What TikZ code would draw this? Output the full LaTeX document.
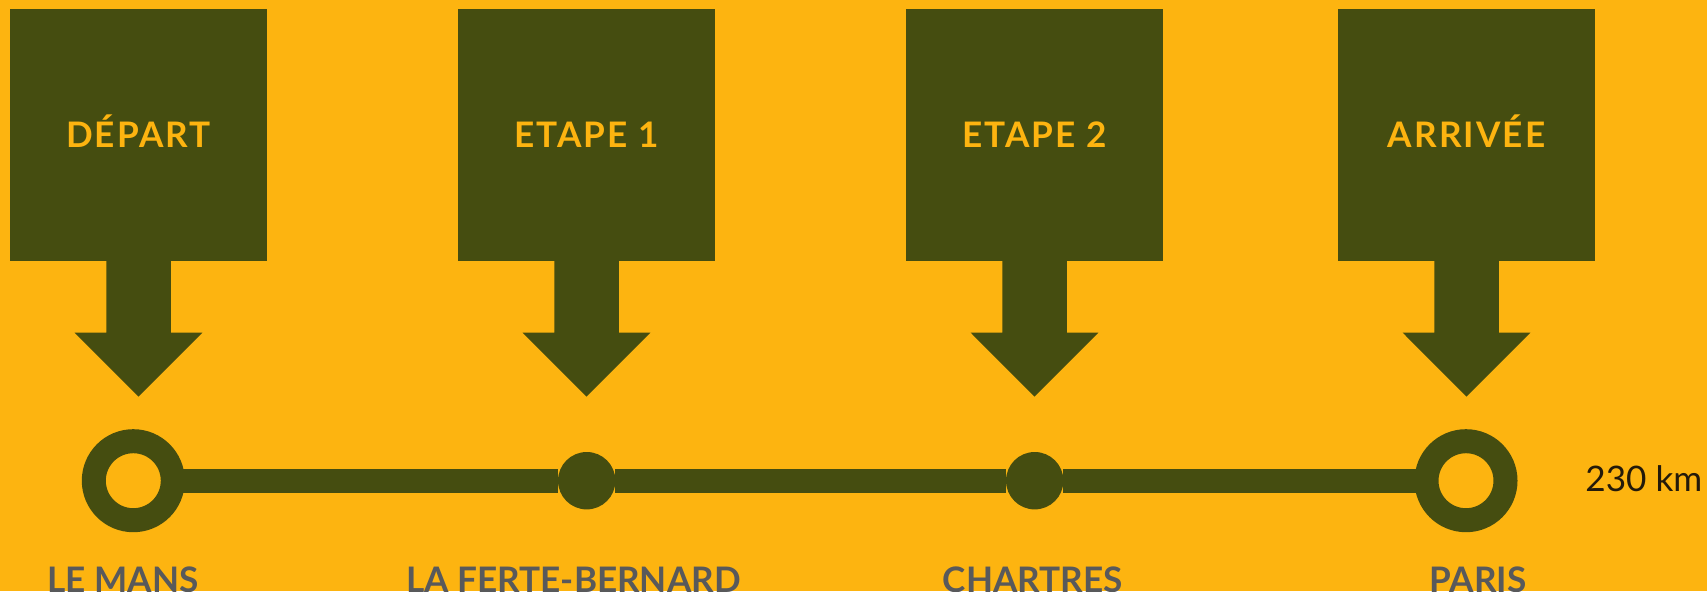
\documentclass[tikz,border=0pt]{standalone}
\usepackage{fontspec}
\setmainfont{Lato}
\usetikzlibrary{positioning}

\definecolor{amber}{RGB}{253,180,16}
\definecolor{olive}{RGB}{69,77,16}
\definecolor{slate}{RGB}{88,89,91}
\definecolor{ink}{RGB}{36,26,10}

\tikzset{
	stage/.style={fill=olive, text=amber, minimum width=5.15cm, minimum height=5.04cm, inner sep=0pt, outer sep=0pt, text height=0.51cm, text depth=0pt, font=\bfseries\fontsize{20}{24}\selectfont\addfontfeature{LetterSpace=6}},
	pointer/.pic={\fill[olive] (-0.645,0) -- (-0.645,-1.434) -- (-1.276,-1.434) -- (0,-2.714) -- (1.276,-1.434) -- (0.645,-1.434) -- (0.645,0) -- cycle;},
	ring/.style={circle, draw=olive, line width=0.48cm, minimum size=1.58cm, inner sep=0pt, outer sep=0pt},
	dot/.style={circle, fill=olive, minimum size=1.148cm, inner sep=0pt, outer sep=0pt},
	route/.style={draw=olive, line width=0.48cm},
	town/.style={anchor=base, text=slate, font=\bfseries\fontsize{20}{24}\selectfont}
}

\begin{document}
\begin{tikzpicture}
				\useasboundingbox (0,0) rectangle (34.14,11.82);
				\fill[amber] (0,0) rectangle (34.14,11.82);
				
				\node[stage] (depart) at (2.77,9.12) {DÉPART};
				\node[stage] (etape1) at (11.73,9.12) {ETAPE 1};
				\node[stage] (etape2) at (20.69,9.12) {ETAPE 2};
				\node[stage] (arrivee) at (29.33,9.12) {ARRIVÉE};
				
				\pic at (depart.south) {pointer};
				\pic at (etape1.south) {pointer};
				\pic at (etape2.south) {pointer};
				\pic at (arrivee.south) {pointer};
				
				\node[ring] (lemans) at (2.666,2.206) {};
				\node[dot] (ferte) at (11.734,2.206) {};
				\node[dot] (chartres) at (20.694,2.206) {};
				\node[ring] (paris) at (29.32,2.206) {};
				
				\draw[route] (lemans) -- (ferte);
				\draw[route] (ferte) -- (chartres);
				\draw[route] (chartres) -- (paris);
				
				\node[town] (lemanslbl) at (2.46,-0.02) {LE MANS};
				\node[town] (fertelbl) at (11.47,-0.02) {LA FERTE-BERNARD};
				\node[town] (chartreslbl) at (20.654,-0.02) {CHARTRES};
				\node[town] (parislbl) at (29.56,-0.02) {PARIS};
				
				\node[anchor=base west, inner sep=0pt, text=ink, font=\fontsize{20}{24}\selectfont] (dist) at (31.7,1.986) {230 km};
			\end{tikzpicture}
\end{document}
